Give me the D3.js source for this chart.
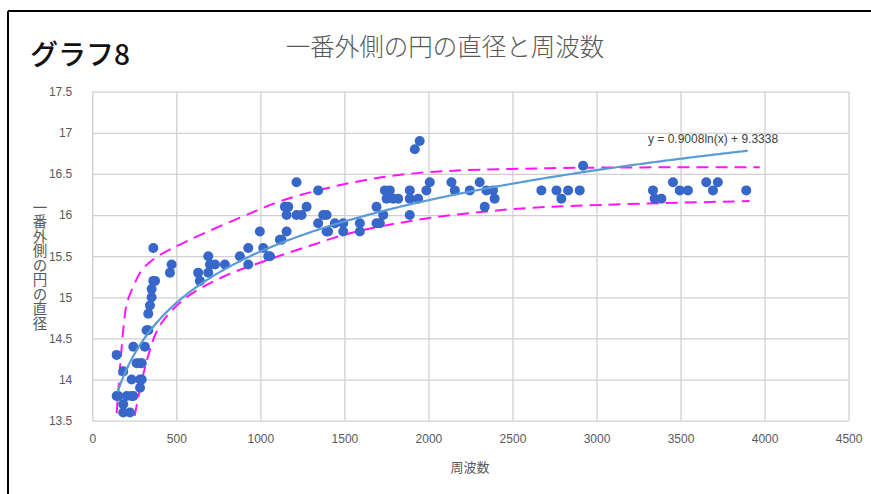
<!DOCTYPE html>
<html lang="ja">
<head>
<meta charset="utf-8">
<script src="https://cdn.jsdelivr.net/npm/d3@7"></script>
<style>
  html, body { margin: 0; padding: 0; background: #fff; }
  svg { display: block; }
</style>
</head>
<body>
<svg id="chart" width="871" height="494"></svg>
<script>
// Tick values for both axes
const xTicks = [0, 500, 1000, 1500, 2000, 2500, 3000, 3500, 4000, 4500];
const yTicks = [13.5, 14, 14.5, 15, 15.5, 16, 16.5, 17, 17.5];

// Measured points: frequency (周波数) and outermost ring diameter
const freq = [
  145, 145, 155, 184, 184, 184, 205, 224, 234, 234, 244, 244, 264, 284, 284, 284, 294, 294, 313, 333,
  323, 333, 343, 353, 353, 363, 373, 363, 462, 472,
  630, 640, 690, 690, 700, 730, 789,
  878, 928, 928, 997, 1017, 1047, 1057,
  1116, 1126, 1146, 1156, 1156, 1166, 1215, 1215, 1245, 1275,
  1344, 1344, 1374, 1394, 1394, 1403, 1443, 1493, 1493, 1592, 1592,
  1691, 1691, 1711, 1731, 1741, 1770, 1751, 1790, 1820, 1889, 1889, 1889, 1919, 1948, 1939, 1988, 2008,
  2137, 2157, 2246, 2305, 2335, 2345, 2384, 2394,
  2672, 2762, 2791, 2831, 2900, 2920,
  3336, 3346, 3386, 3455, 3495, 3544, 3653, 3693, 3722, 3891
];
const diameter = [
  14.3, 13.8, 13.8, 14.1, 13.7, 13.6, 13.8, 13.6, 14.0, 13.8, 13.8, 14.4, 14.2, 14.2, 13.9, 14.0, 14.2, 14.0, 14.4, 14.6,
  14.6, 14.8, 14.9, 15.0, 15.1, 15.2, 15.2, 15.6, 15.3, 15.4,
  15.3, 15.2, 15.5, 15.3, 15.4, 15.4, 15.4,
  15.5, 15.6, 15.4, 15.8, 15.6, 15.5, 15.5,
  15.7, 15.7, 16.1, 16.0, 15.8, 16.1, 16.4, 16.0, 16.0, 16.1,
  16.3, 15.9, 16.0, 16.0, 15.8, 15.8, 15.9, 15.9, 15.8, 15.9, 15.8,
  16.1, 15.9, 15.9, 16.0, 16.3, 16.3, 16.2, 16.2, 16.2, 16.3, 16.2, 16.0, 16.8, 16.9, 16.2, 16.3, 16.4,
  16.4, 16.3, 16.3, 16.4, 16.1, 16.3, 16.3, 16.2,
  16.3, 16.3, 16.2, 16.3, 16.3, 16.6,
  16.3, 16.2, 16.2, 16.4, 16.3, 16.3, 16.4, 16.3, 16.4, 16.3
];

// Logarithmic trendline y = a ln(x) + b
const trendA = 0.9008;
const trendB = 9.3338;
const trendRange = [150, 3900];

// Hand-drawn envelope around the scatter (upper and lower bounds)
const upperX = [145, 184, 206, 244, 294, 383, 581, 938, 1136, 1533, 1929, 2722, 3971];
const upperY = [13.59, 14.6, 14.93, 15.13, 15.33, 15.49, 15.7, 16.02, 16.18, 16.39, 16.51, 16.57, 16.58];
const lowerX = [252, 323, 403, 561, 779, 1037, 1314, 1533, 1929, 2325, 2722, 3911];
const lowerY = [13.56, 14.22, 14.66, 15.0, 15.25, 15.45, 15.64, 15.78, 15.94, 16.04, 16.1, 16.17];

const svg = d3.select("#chart");
const plotL = 92.3, plotR = 848.6, plotT = 91.7, plotB = 420.7;

const x = d3.scaleLinear().domain([0, 4500]).range([plotL, plotR]);
const y = d3.scaleLinear().domain([13.5, 17.5]).range([plotB, plotT]);

// Outer frame (top and left edges)
svg.append("line").attr("x1", 8).attr("y1", 11).attr("x2", 871).attr("y2", 11)
  .attr("stroke", "#000").attr("stroke-width", 2);
svg.append("line").attr("x1", 8).attr("y1", 11).attr("x2", 8).attr("y2", 494)
  .attr("stroke", "#000").attr("stroke-width", 2);

// Headings
svg.append("text").attr("x", 30).attr("y", 65)
  .attr("font-family", "'Noto Sans CJK JP', sans-serif").attr("font-size", 28).attr("font-weight", 500)
  .attr("fill", "#111").text("グラフ8");
svg.append("text").attr("x", 445).attr("y", 56).attr("text-anchor", "middle")
  .attr("font-family", "'Noto Sans CJK JP', sans-serif").attr("font-size", 24.5).attr("font-weight", 300)
  .attr("fill", "#595959").text("一番外側の円の直径と周波数");

const tickFont = "'Liberation Sans Narrow', 'Liberation Sans', sans-serif";

// Gridlines + x axis labels
const xAxis = svg.append("g").attr("transform", `translate(0,${plotB})`)
  .call(d3.axisBottom(x).tickValues(xTicks).tickSize(-(plotB - plotT)).tickPadding(14).tickFormat(d3.format("d")));
xAxis.select(".domain").remove();
xAxis.selectAll(".tick line").attr("stroke", "#d0d0d0").attr("stroke-width", 1.3);
xAxis.selectAll(".tick text").attr("font-family", tickFont).attr("font-size", 12).attr("fill", "#595959");

const yAxis = svg.append("g").attr("transform", `translate(${plotL},0)`)
  .call(d3.axisLeft(y).tickValues(yTicks).tickSize(-(plotR - plotL)).tickPadding(20).tickFormat(d => String(d)));
yAxis.select(".domain").remove();
yAxis.selectAll(".tick line").attr("stroke", "#d0d0d0").attr("stroke-width", 1.3);
yAxis.selectAll(".tick text").attr("font-family", tickFont).attr("font-size", 12).attr("fill", "#595959");

// Axis titles
svg.append("text").attr("x", 470).attr("y", 472).attr("text-anchor", "middle")
  .attr("font-family", "'Noto Sans CJK JP', sans-serif").attr("font-size", 13)
  .attr("fill", "#595959").text("周波数");
svg.append("text").attr("x", 40).attr("y", 265).attr("text-anchor", "middle")
  .style("writing-mode", "vertical-rl").style("text-orientation", "upright")
  .attr("font-family", "'Noto Sans CJK JP', sans-serif").attr("font-size", 14.5)
  .attr("fill", "#595959").text("一番外側の円の直径");

// Envelope curves
const env = d3.line().x(d => x(d[0])).y(d => y(d[1])).curve(d3.curveCatmullRom.alpha(0.5));
[[upperX, upperY], [lowerX, lowerY]].forEach(([xs, ys]) => {
  svg.append("path").attr("d", env(xs.map((v, i) => [v, ys[i]])))
    .attr("fill", "none").attr("stroke", "#ff14ff").attr("stroke-width", 2)
    .attr("stroke-dasharray", "12,7");
});

// Scatter points
const pts = freq.map((f, i) => [f, diameter[i]]);
svg.append("g").selectAll("circle").data(pts).join("circle")
  .attr("cx", d => x(d[0])).attr("cy", d => y(d[1])).attr("r", 5)
  .attr("fill", "#3767c8");

// Trendline
const trendPts = d3.range(trendRange[0], trendRange[1] + 1, 10).map(v => [v, trendA * Math.log(v) + trendB]);
svg.append("path").attr("d", d3.line().x(d => x(d[0])).y(d => y(d[1]))(trendPts))
  .attr("fill", "none").attr("stroke", "#5b9bd5").attr("stroke-width", 2.2);

svg.append("text").attr("x", 648).attr("y", 143)
  .attr("font-family", tickFont).attr("font-size", 12).attr("fill", "#404040")
  .text(`y = ${trendA}ln(x) + ${trendB}`);
</script>
</body>
</html>
